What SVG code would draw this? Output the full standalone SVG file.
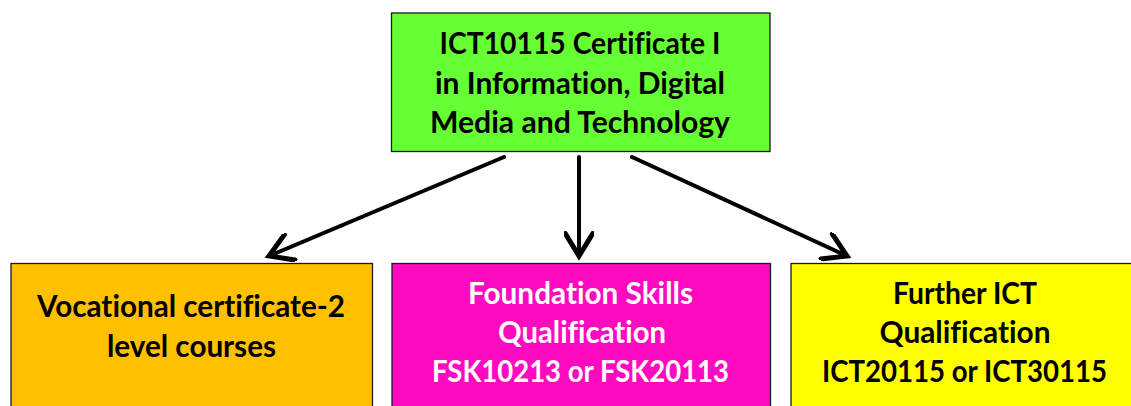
<svg xmlns="http://www.w3.org/2000/svg" width="1131" height="406" viewBox="0 0 1131 406">
<style>
.box{stroke:#1a1a1a;stroke-width:1.3}
.t{font-family:Lato,"Open Sans","Liberation Sans",sans-serif;font-weight:700;font-size:29.5px;text-anchor:middle;fill:#000;font-variant-ligatures:none;font-feature-settings:"liga" 0}
.w{fill:#fff}
.conn{stroke:#000;stroke-width:4;fill:none;stroke-linecap:round}
</style>
<defs>
<marker id="arr" markerUnits="userSpaceOnUse" markerWidth="30" markerHeight="30" refX="20" refY="12" orient="auto" viewBox="0 0 24 24">
<path d="M2,1 L20,12 L2,23" fill="none" stroke="#000" stroke-width="4" stroke-linecap="round" stroke-linejoin="miter"/>
</marker>
</defs>
<rect width="1131" height="406" fill="#fff"/>
<g id="connectors">
<line class="conn" x1="504" y1="157" x2="269" y2="256" marker-end="url(#arr)"/>
<line class="conn" x1="579" y1="157" x2="579" y2="256" marker-end="url(#arr)"/>
<line class="conn" x1="632" y1="157" x2="847" y2="256" marker-end="url(#arr)"/>
</g>
<g id="node-top">
<rect class="box" x="391.5" y="13" width="378.5" height="138.5" fill="#66FF33"/>
<text class="t" x="580" y="54" textLength="281" lengthAdjust="spacingAndGlyphs">ICT10115 Certificate I</text>
<text class="t" x="580" y="94" textLength="290" lengthAdjust="spacingAndGlyphs">in Information, Digital</text>
<text class="t" x="580" y="133" textLength="300" lengthAdjust="spacingAndGlyphs">Media and Technology</text>
</g>
<g id="node-vocational">
<rect class="box" x="11" y="263.5" width="361.5" height="150" fill="#FFC000"/>
<text class="t" x="191" y="317" textLength="308" lengthAdjust="spacingAndGlyphs">Vocational certificate-2</text>
<text class="t" x="191.5" y="357" textLength="169" lengthAdjust="spacingAndGlyphs">level courses</text>
</g>
<g id="node-foundation">
<rect class="box" x="392" y="263.5" width="378.5" height="150" fill="#FF0ABE"/>
<text class="t w" x="580.5" y="304" textLength="225" lengthAdjust="spacingAndGlyphs">Foundation Skills</text>
<text class="t w" x="582" y="343" textLength="168" lengthAdjust="spacingAndGlyphs">Qualification</text>
<text class="t w" x="580.5" y="382" textLength="297" lengthAdjust="spacingAndGlyphs">FSK10213 or FSK20113</text>
</g>
<g id="node-further">
<rect class="box" x="791" y="263.5" width="350" height="150" fill="#FFFF00"/>
<text class="t" x="965" y="304" textLength="144" lengthAdjust="spacingAndGlyphs">Further ICT</text>
<text class="t" x="965" y="343" textLength="171" lengthAdjust="spacingAndGlyphs">Qualification</text>
<text class="t" x="964.5" y="382" textLength="285" lengthAdjust="spacingAndGlyphs">ICT20115 or ICT30115</text>
</g>
</svg>
